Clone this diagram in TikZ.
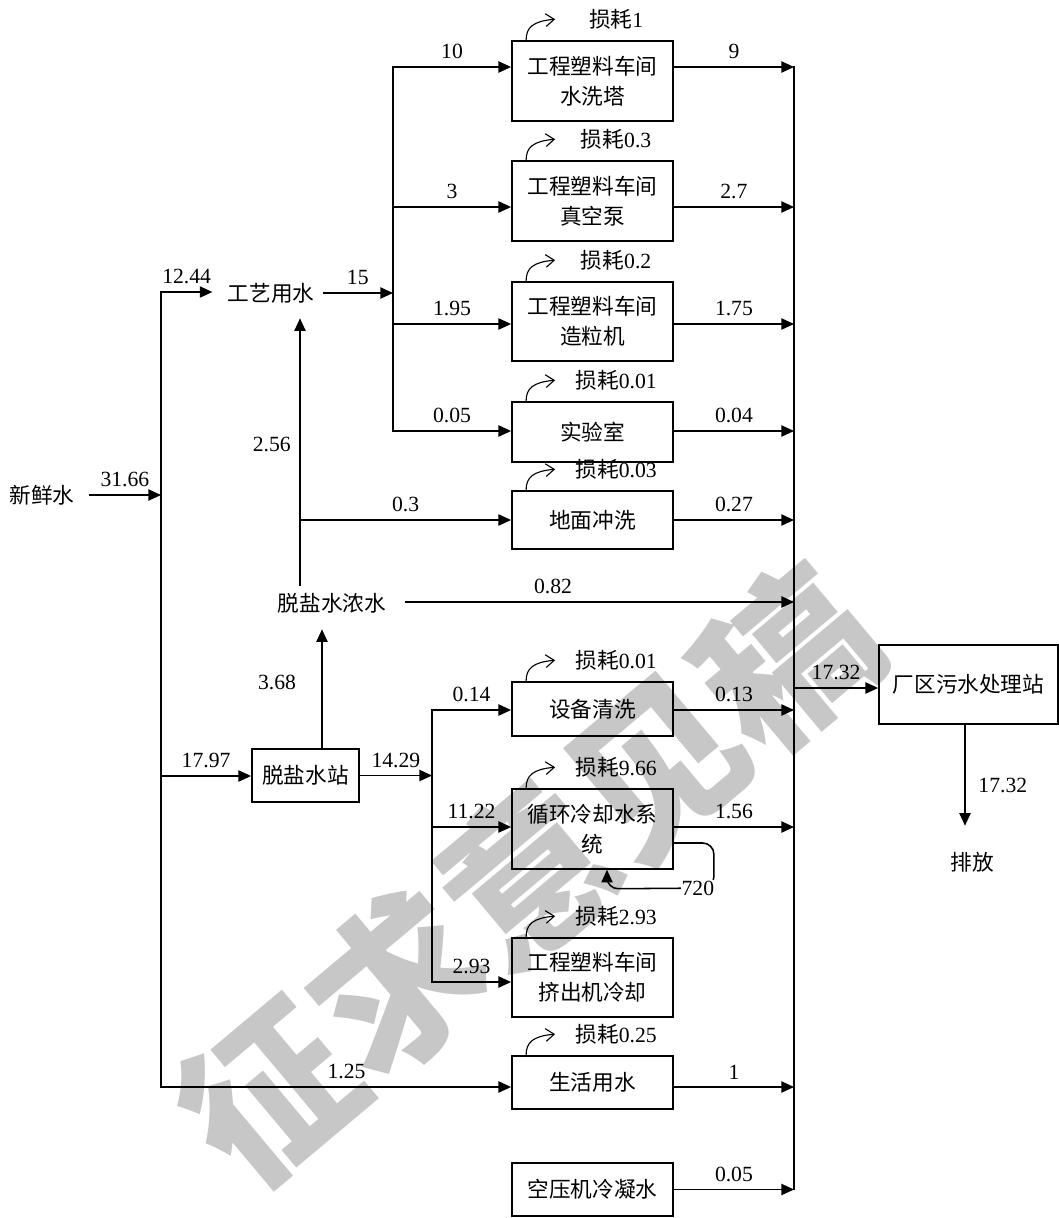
\documentclass[tikz,border=0pt]{standalone}
\usepackage{fontspec}
\setmainfont{Liberation Serif}
\newfontfamily\cjk{Noto Sans CJK SC}
\usetikzlibrary{arrows.meta, positioning, calc}

\newcommand\cnfont{\cjk\fontsize{15.4}{21.3}\selectfont}
\newcommand\numfont{\rmfamily\fontsize{15.4}{21.3}\selectfont}

\tikzset{
  unit/.style={draw, line width=1.1pt, minimum width=4.03cm, align=center,
               font=\cnfont, inner sep=1pt},
  txt/.style={font=\cnfont, inner sep=0pt},
  num/.style={font=\numfont, inner sep=1pt},
  lab/.style={num, above=4pt},
  line/.style={line width=1.1pt, line cap=rect},
  flow/.style={line width=1.1pt, -{Triangle[length=9pt,width=8pt]}},
  lossarc/.style={line width=0.8pt, -{Straight Barb[length=6pt,width=9pt]}},
}

% loss marker above a unit
\newcommand\lossmark[2]{%
  \draw[lossarc] ($(#1.north west)+(15,0)$)
    .. controls ($(#1.north west)+(15,-13)$) and ($(#1.north west)+(22,-19)$)
    .. ($(#1.north west)+(44,-21)$);
  \node[num] at ($(#1.north west)+(105,-21)$) {{\cjk 损耗}#2};
}

\begin{document}
\begin{tikzpicture}[x=0.025cm, y=-0.025cm]
\useasboundingbox (0,0) rectangle (1059,1218);

% watermark
\node[font=\cjk\bfseries\fontsize{120}{120}\selectfont, text=black!22, rotate=40]
  (wm) at (527,874) {征求意见稿};

% plain text points
\node[txt] (xxs) at (42,495) {新鲜水};
\node[txt] (gyys) at (271,293) {工艺用水};
\node[txt] (nsw) at (332,603) {脱盐水浓水};
\node[txt] (pf) at (972,862) {排放};

% units
\node[unit, minimum height=2cm] (sxt) at (592.5,81) {工程塑料车间\\水洗塔};
\node[unit, minimum height=2cm] (zkb) at (592.5,201) {工程塑料车间\\真空泵};
\node[unit, minimum height=1.98cm] (zlj) at (592.5,321.5) {工程塑料车间\\造粒机};
\node[unit, minimum height=1.5cm] (sys) at (592.5,432) {实验室};
\node[unit, minimum height=1.45cm] (dmcx) at (592.5,520) {地面冲洗};
\node[unit, minimum height=1.35cm] (sbqx) at (592.5,709) {设备清洗};
\node[unit, minimum height=2cm] (xhls) at (592.5,829) {循环冷却水系\\统};
\node[unit, minimum height=1.98cm] (jcj) at (592.5,977.5) {工程塑料车间\\挤出机冷却};
\node[unit, minimum height=1.33cm] (shys) at (592.5,1082.5) {生活用水};
\node[unit, minimum height=1.33cm] (kyj) at (592.5,1189.5) {空压机冷凝水};
\node[unit, minimum width=2.68cm, minimum height=1.33cm] (tyz) at (305.5,775.5) {脱盐水站};
\node[unit, minimum width=4.48cm, minimum height=1.98cm] (wsz) at (968.5,684.5) {厂区污水处理站};

% junctions
\coordinate (cx) at (794,0);
\coordinate (a1) at (393,67);
\coordinate (a2) at (393,207);
\coordinate (a3) at (393,324);
\coordinate (a4) at (393,431);
\coordinate (b1) at (432,710);
\coordinate (b2) at (432,827);
\coordinate (b3) at (432,982);
\coordinate (m1) at (161,292);
\coordinate (m2) at (161,776);
\coordinate (m3) at (161,1087);
\coordinate (j256) at (300,520);
\coordinate (cw) at (794,688);

% trunks
\draw[line] (m1) -- (m3);
\draw[line] (a1) -- (a4);
\draw[line] (b1) -- (b3);
\draw[line] (a1 -| cx) -- (kyj.east -| cx);

% fresh water
\draw[flow] ($(xxs.east)+(14,0)$) -- node[lab]{31.66} (xxs.east -| m1);
\draw[flow] (m1) -- node[lab]{12.44} ($(m1 -| gyys.west)+(-15,0)$);
\draw[flow] ($(gyys.east)+(8,0)$) -- node[lab]{15} (gyys.east -| a1);
\draw[flow] (m2) -- node[lab]{17.97} (m2 -| tyz.west);
\draw[flow] (m3) -- node[lab, pos=0.53]{1.25} (m3 -| shys.west);

% process water
\draw[flow] (a1) -- node[lab]{10} (a1 -| sxt.west);
\draw[flow] (a1 -| sxt.east) -- node[lab]{9} (a1 -| cx);
\draw[flow] (a2) -- node[lab]{3} (a2 -| zkb.west);
\draw[flow] (a2 -| zkb.east) -- node[lab]{2.7} (a2 -| cx);
\draw[flow] (a3) -- node[lab]{1.95} (a3 -| zlj.west);
\draw[flow] (a3 -| zlj.east) -- node[lab]{1.75} (a3 -| cx);
\draw[flow] (a4) -- node[lab]{0.05} (a4 -| sys.west);
\draw[flow] (a4 -| sys.east) -- node[lab]{0.04} (a4 -| cx);

% concentrate
\draw[flow] ($(nsw.north)+(-32,-7)$) -- node[num, left=5pt, pos=0.53]{2.56}
  ($(gyys.south -| j256)+(0,15)$);
\draw[flow] (j256) -- node[lab]{0.3} (j256 -| dmcx.west);
\draw[flow] (j256 -| dmcx.east) -- node[lab]{0.27} (j256 -| cx);
\draw[flow] ($(nsw.east)+(19,-1)$) -- node[lab, pos=0.38]{0.82} ($(nsw.east -| cx)+(0,-1)$);

% desalted water
\draw[flow] ($(tyz.north)+(16.5,0)$) -- node[num, left=17pt, pos=0.55]{3.68}
  ($(nsw.south)+(-10,16)$);
\draw[flow] (tyz.east) -- node[lab]{14.29} (tyz.east -| b1);
\draw[flow] (b1) -- node[lab]{0.14} (b1 -| sbqx.west);
\draw[flow] (b1 -| sbqx.east) -- node[lab]{0.13} (b1 -| cx);
\draw[flow] (b2) -- node[lab]{11.22} (b2 -| xhls.west);
\draw[flow] (b2 -| xhls.east) -- node[lab]{1.56} (b2 -| cx);
\draw[flow] (b3) -- node[lab]{2.93} (b3 -| jcj.west);

% recirculation
\draw[flow, rounded corners=8pt] ($(xhls.east)+(0,14)$) -- ($(xhls.east)+(40,14)$)
  -- ($(xhls.east)+(40,59)$) -- ($(xhls.south)+(14.5,19)$) -- ($(xhls.south)+(14.5,0)$);
\node[num, fill=white, inner sep=0.5pt] (n720) at ($(xhls.east)+(24,59)$) {720};

% domestic and condensate
\draw[flow] (m3 -| shys.east) -- node[lab]{1} (m3 -| cx);
\draw[flow] (kyj.east) -- node[lab]{0.05} (kyj.east -| cx);

% treatment
\draw[flow] (cw) -- node[lab]{17.32} (cw -| wsz.west);
\draw[flow] ($(wsz.south)+(-3.5,0)$) -- node[num, right=8pt, pos=0.6]{17.32}
  ($(pf.north)+(-7,-26)$);

% losses
\lossmark{sxt}{1}
\lossmark{zkb}{0.3}
\lossmark{zlj}{0.2}
\lossmark{sys}{0.01}
\lossmark{dmcx}{0.03}
\lossmark{sbqx}{0.01}
\lossmark{xhls}{9.66}
\lossmark{jcj}{2.93}
\lossmark{shys}{0.25}
\end{tikzpicture}
\end{document}
